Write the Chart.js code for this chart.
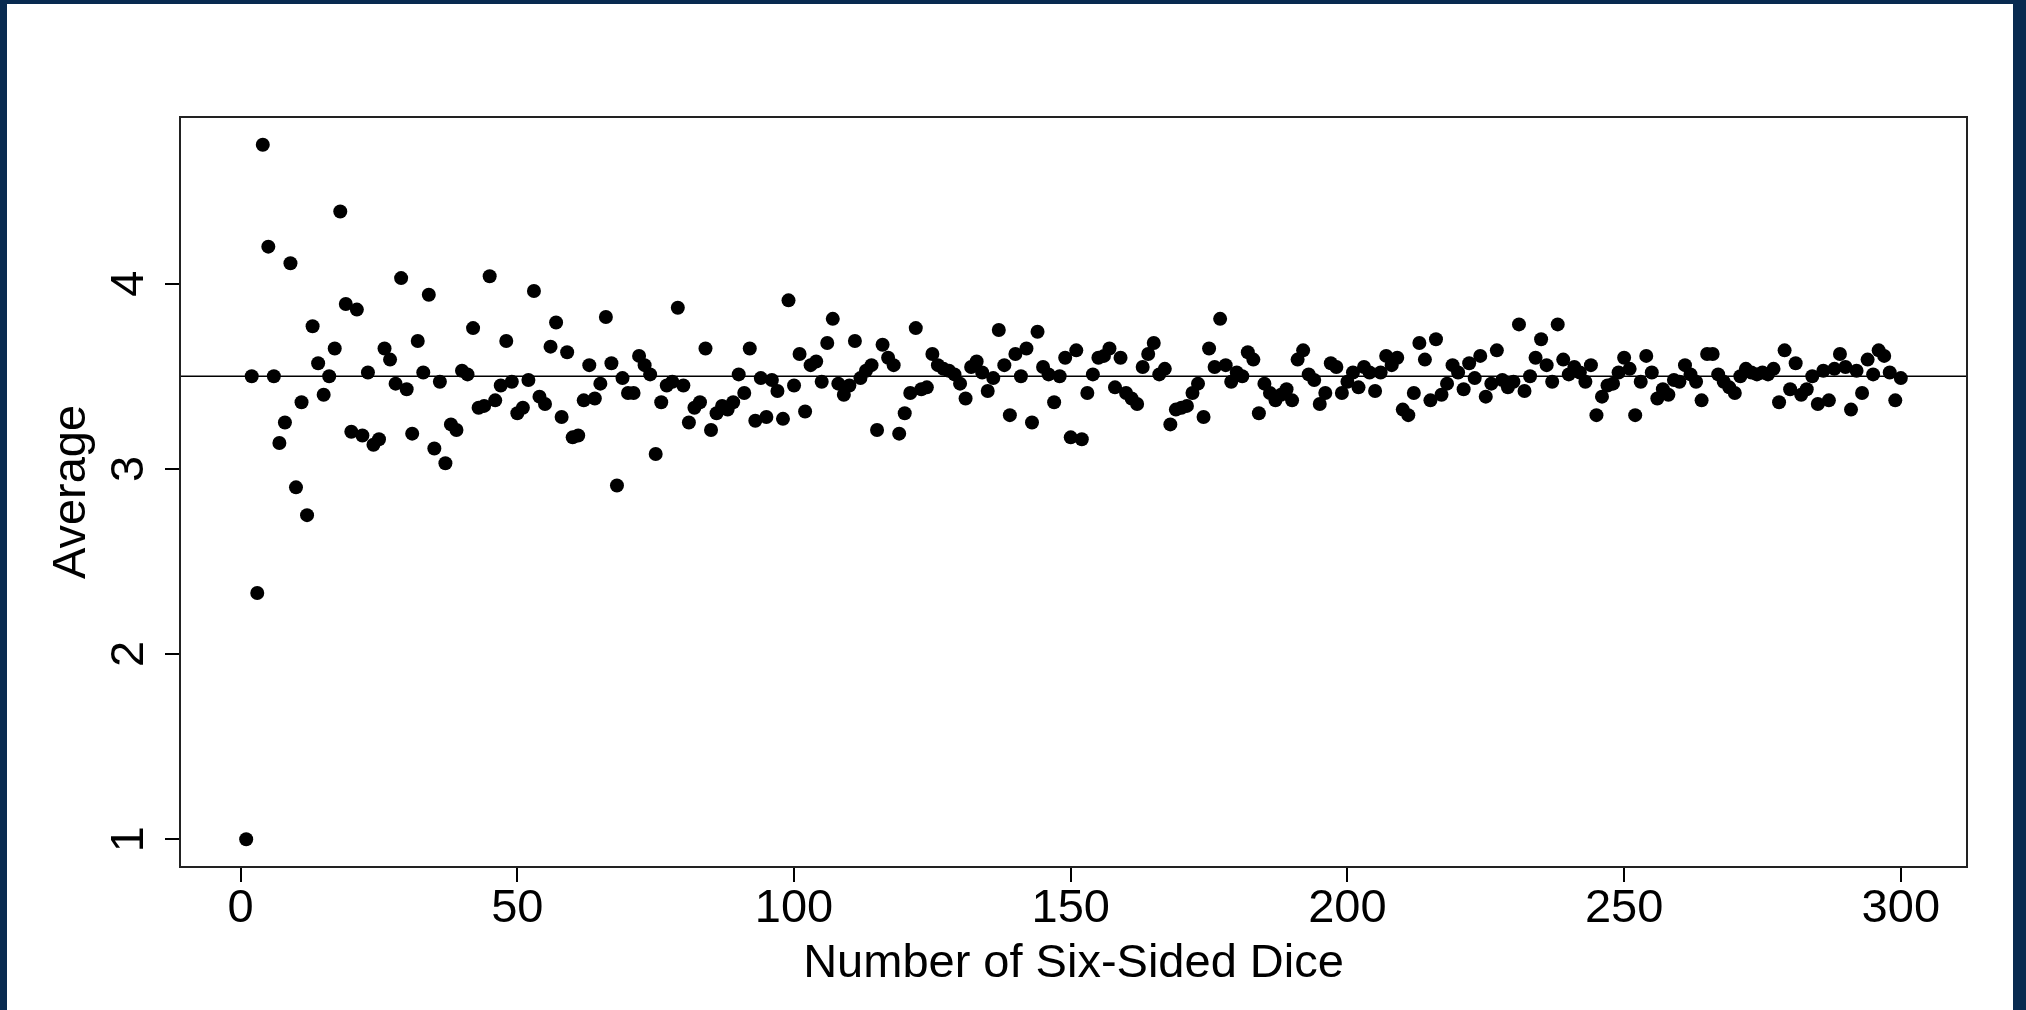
<!DOCTYPE html>
<html>
<head>
<meta charset="utf-8">
<script src="https://cdn.jsdelivr.net/npm/chart.js@4.4.1/dist/chart.umd.min.js"></script>
<style>
  html, body { margin: 0; padding: 0; background: #082a50; }
  body { width: 2026px; height: 1010px; position: relative; overflow: hidden; }
  #wrap { position: absolute; left: 7px; top: 4px; width: 2006px; height: 1006px; background: #fff; }
</style>
</head>
<body>
<div id="wrap"><canvas id="chart" width="2006" height="1006"></canvas></div>
<script>
// average of n six-sided dice, n = 1..300
const averages = [
  1.00, 3.50, 2.33, 4.75, 4.20, 3.50, 3.14, 3.25, 4.11, 2.90,
  3.36, 2.75, 3.77, 3.57, 3.40, 3.50, 3.65, 4.39, 3.89, 3.20,
  3.86, 3.18, 3.52, 3.13, 3.16, 3.65, 3.59, 3.46, 4.03, 3.43,
  3.19, 3.69, 3.52, 3.94, 3.11, 3.47, 3.03, 3.24, 3.21, 3.53,
  3.51, 3.76, 3.33, 3.34, 4.04, 3.37, 3.45, 3.69, 3.47, 3.30,
  3.33, 3.48, 3.96, 3.39, 3.35, 3.66, 3.79, 3.28, 3.63, 3.17,
  3.18, 3.37, 3.56, 3.38, 3.46, 3.82, 3.57, 2.91, 3.49, 3.41,
  3.41, 3.61, 3.56, 3.51, 3.08, 3.36, 3.45, 3.47, 3.87, 3.45,
  3.25, 3.33, 3.36, 3.65, 3.21, 3.30, 3.34, 3.32, 3.36, 3.51,
  3.41, 3.65, 3.26, 3.49, 3.28, 3.48, 3.42, 3.27, 3.91, 3.45,
  3.62, 3.31, 3.56, 3.58, 3.47, 3.68, 3.81, 3.46, 3.40, 3.45,
  3.69, 3.49, 3.53, 3.56, 3.21, 3.67, 3.60, 3.56, 3.19, 3.30,
  3.41, 3.76, 3.43, 3.44, 3.62, 3.56, 3.54, 3.53, 3.51, 3.46,
  3.38, 3.55, 3.58, 3.52, 3.42, 3.49, 3.75, 3.56, 3.29, 3.62,
  3.50, 3.65, 3.25, 3.74, 3.55, 3.51, 3.36, 3.50, 3.60, 3.17,
  3.64, 3.16, 3.41, 3.51, 3.60, 3.61, 3.65, 3.44, 3.60, 3.41,
  3.38, 3.35, 3.55, 3.62, 3.68, 3.51, 3.54, 3.24, 3.32, 3.33,
  3.34, 3.41, 3.46, 3.28, 3.65, 3.55, 3.81, 3.56, 3.47, 3.52,
  3.50, 3.63, 3.59, 3.30, 3.46, 3.41, 3.37, 3.40, 3.43, 3.37,
  3.59, 3.64, 3.51, 3.48, 3.35, 3.41, 3.57, 3.55, 3.41, 3.47,
  3.52, 3.44, 3.55, 3.52, 3.42, 3.52, 3.61, 3.56, 3.60, 3.32,
  3.29, 3.41, 3.68, 3.59, 3.37, 3.70, 3.40, 3.46, 3.56, 3.52,
  3.43, 3.57, 3.49, 3.61, 3.39, 3.46, 3.64, 3.48, 3.44, 3.47,
  3.78, 3.42, 3.50, 3.60, 3.70, 3.56, 3.47, 3.78, 3.59, 3.51,
  3.55, 3.52, 3.47, 3.56, 3.29, 3.39, 3.45, 3.46, 3.52, 3.60,
  3.54, 3.29, 3.47, 3.61, 3.52, 3.38, 3.43, 3.40, 3.48, 3.47,
  3.56, 3.51, 3.47, 3.37, 3.62, 3.62, 3.51, 3.47, 3.44, 3.41,
  3.50, 3.54, 3.52, 3.51, 3.52, 3.51, 3.54, 3.36, 3.64, 3.43,
  3.57, 3.40, 3.43, 3.50, 3.35, 3.53, 3.37, 3.54, 3.62, 3.55,
  3.32, 3.53, 3.41, 3.59, 3.51, 3.64, 3.61, 3.52, 3.37, 3.49
];
const xTicks = [0, 50, 100, 150, 200, 250, 300];
const yTicks = [1, 2, 3, 4];
const expectedMean = 3.5;

const family = '"Liberation Sans", Arial, sans-serif';
const points = averages.map((v, i) => ({ x: i + 1, y: v }));

// box around the plot + the horizontal line at the expected value
const framePlugin = {
  id: 'frame',
  afterDatasetsDraw(chart) {
    const { ctx, chartArea: a, scales: { y } } = chart;
    const yy = y.getPixelForValue(expectedMean);
    ctx.save();
    ctx.strokeStyle = '#000';
    ctx.lineWidth = 1.6;
    ctx.beginPath();
    ctx.moveTo(a.left, yy);
    ctx.lineTo(a.right, yy);
    ctx.stroke();
    ctx.strokeStyle = '#222';
    ctx.lineWidth = 2;
    ctx.strokeRect(a.left, a.top, a.right - a.left, a.bottom - a.top);
    ctx.restore();
  }
};

new Chart(document.getElementById('chart'), {
  type: 'scatter',
  data: {
    datasets: [{
      data: points,
      pointRadius: 7,
      pointHoverRadius: 7,
      pointBackgroundColor: '#000',
      pointBorderWidth: 0
    }]
  },
  options: {
    responsive: false,
    animation: false,
    layout: { padding: { left: 0, top: 113, right: 46, bottom: 0 } },
    plugins: { legend: { display: false }, tooltip: { enabled: false } },
    scales: {
      x: {
        type: 'linear',
        min: -10.96,
        max: 311.96,
        afterBuildTicks: s => { s.ticks = xTicks.map(v => ({ value: v })); },
        afterFit: s => { s.height = 143; },
        grid: { drawOnChartArea: false, drawTicks: true, tickLength: 15, color: '#000', lineWidth: 2 },
        border: { display: false },
        ticks: { color: '#000', font: { family, size: 47, lineHeight: 1 }, padding: 3.5, minRotation: 0, maxRotation: 0, autoSkip: false },
        title: { display: true, text: 'Number of Six-Sided Dice', color: '#000', font: { family, size: 47, lineHeight: 1.2 }, padding: { top: 0, bottom: 18 } }
      },
      y: {
        type: 'linear',
        min: 0.85,
        max: 4.9,
        afterBuildTicks: s => { s.ticks = yTicks.map(v => ({ value: v })); },
        afterFit: s => { s.width = 173; },
        grid: { drawOnChartArea: false, drawTicks: true, tickLength: 15, color: '#000', lineWidth: 2 },
        border: { display: false },
        ticks: { color: '#000', font: { family, size: 47, lineHeight: 1 }, padding: 22, minRotation: 90, maxRotation: 90, crossAlign: 'center' },
        title: { display: true, text: 'Average', color: '#000', font: { family, size: 47, lineHeight: 1.2 }, padding: { top: 37, bottom: 0 } }
      }
    }
  },
  plugins: [framePlugin]
});
</script>
</body>
</html>
